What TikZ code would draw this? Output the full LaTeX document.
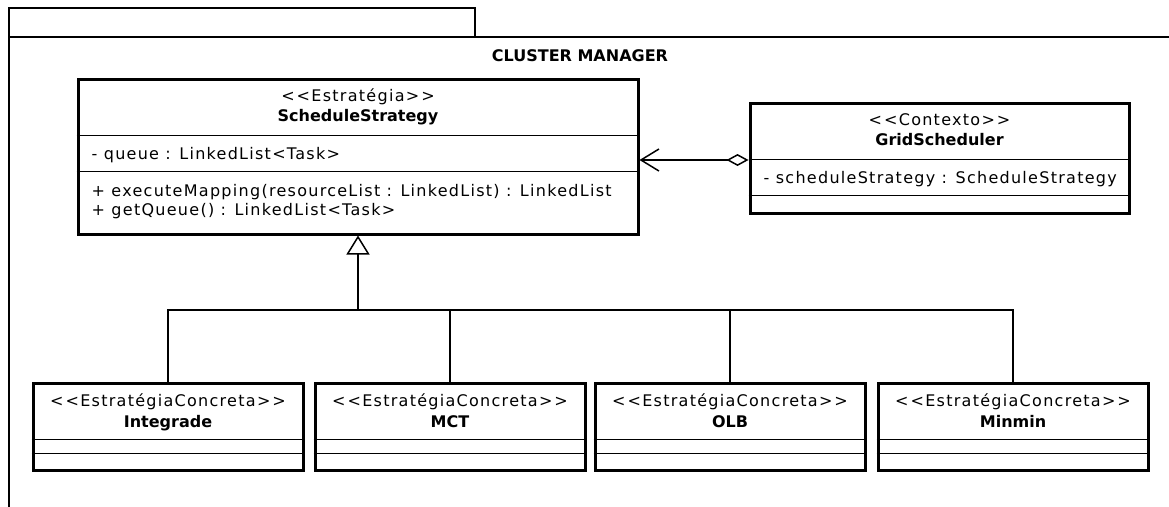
\documentclass[tikz,border=0pt]{standalone}
\usepackage{fontspec}
\setmainfont{DejaVu Sans}[LetterSpace=8, BoldFeatures={LetterSpace=0}]
\usepackage{tikz}
\usetikzlibrary{calc}
\usetikzlibrary{arrows.meta}

\newcommand{\umlstereo}[1]{<\kern2pt<#1>\kern2pt>}

\tikzset{
    pkgframe/.style={line width=2.6pt},
    classbox/.style={draw, line width=3pt, inner sep=0pt},
    classtext/.style={inner sep=0pt, anchor=base, font=\fontsize{16}{19}\selectfont},
    classname/.style={inner sep=0pt, anchor=base, font=\fontsize{16}{19}\selectfont\bfseries},
    compsep/.style={line width=1.5pt},
    link/.style={line width=1.5pt},
    assoc/.style={line width=1.5pt, {Diamond[open,length=22pt,width=12pt]}-{Straight Barb[length=18pt,width=22pt]}},
    gen/.style={line width=1.5pt, -{Triangle[open,length=19pt,width=23pt]}}
}

\begin{document}
\begin{tikzpicture}[x=1pt, y=-1pt]

    \useasboundingbox (0,0) rectangle (1169,506);

    % Draw the package
    \draw[pkgframe] (9,8) rectangle (475,37);
    \draw[pkgframe] (9,510) -- (9,37) -- (1175,37);
    \node[classname] (pkg) at (580,61) {CLUSTER MANAGER};

    % Place the strategy class
    \node[classbox, minimum width=560pt, minimum height=155pt] (sched) at (358,156.5) {};
    \node[classtext] (sched-st) at ($(sched.north)+(0,24)$) {\umlstereo{Estratégia}};
    \node[classname] (sched-nm) at ($(sched.north)+(0,44)$) {ScheduleStrategy};
    \draw[compsep] ($(sched.north west)+(0,58)$) -- ($(sched.north east)+(0,58)$);
    \draw[compsep] ($(sched.north west)+(0,94)$) -- ($(sched.north east)+(0,94)$);
    \node[classtext, anchor=base west] (sched-a1) at ($(sched.north west)+(15,82)$) {- queue : LinkedList<Task>};
    \node[classtext, anchor=base west] (sched-m1) at ($(sched.north west)+(15,119)$) {+ executeMapping(resourceList : LinkedList) : LinkedList};
    \node[classtext, anchor=base west] (sched-m2) at ($(sched.north west)+(15,138)$) {+ getQueue() : LinkedList<Task>};

    % Place the context class
    \node[classbox, minimum width=379pt, minimum height=110pt] (grid) at (939.5,158) {};
    \node[classtext] (grid-st) at ($(grid.north)+(0,24)$) {\umlstereo{Contexto}};
    \node[classname] (grid-nm) at ($(grid.north)+(0,44)$) {GridScheduler};
    \draw[compsep] ($(grid.north west)+(0,58)$) -- ($(grid.north east)+(0,58)$);
    \draw[compsep] ($(grid.north west)+(0,94)$) -- ($(grid.north east)+(0,94)$);
    \node[classtext, anchor=base west] (grid-a1) at ($(grid.north west)+(15,82)$) {- scheduleStrategy : ScheduleStrategy};

    % Place the concrete strategies
    \node[classbox, minimum width=270pt, minimum height=87pt] (integrade) at (168,426.5) {};
    \node[classbox, minimum width=270pt, minimum height=87pt] (mct) at (450,426.5) {};
    \node[classbox, minimum width=270pt, minimum height=87pt] (olb) at (730,426.5) {};
    \node[classbox, minimum width=270pt, minimum height=87pt] (minmin) at (1013,426.5) {};

    \node[classtext] (integrade-st) at ($(integrade.north)+(0,25)$) {\umlstereo{EstratégiaConcreta}};
    \node[classname] (integrade-nm) at ($(integrade.north)+(0,46)$) {Integrade};
    \node[classtext] (mct-st) at ($(mct.north)+(0,25)$) {\umlstereo{EstratégiaConcreta}};
    \node[classname] (mct-nm) at ($(mct.north)+(0,46)$) {MCT};
    \node[classtext] (olb-st) at ($(olb.north)+(0,25)$) {\umlstereo{EstratégiaConcreta}};
    \node[classname] (olb-nm) at ($(olb.north)+(0,46)$) {OLB};
    \node[classtext] (minmin-st) at ($(minmin.north)+(0,25)$) {\umlstereo{EstratégiaConcreta}};
    \node[classname] (minmin-nm) at ($(minmin.north)+(0,46)$) {Minmin};

    \draw[compsep] ($(integrade.north west)+(0,58)$) -- ($(integrade.north east)+(0,58)$);
    \draw[compsep] ($(integrade.north west)+(0,72)$) -- ($(integrade.north east)+(0,72)$);
    \draw[compsep] ($(mct.north west)+(0,58)$) -- ($(mct.north east)+(0,58)$);
    \draw[compsep] ($(mct.north west)+(0,72)$) -- ($(mct.north east)+(0,72)$);
    \draw[compsep] ($(olb.north west)+(0,58)$) -- ($(olb.north east)+(0,58)$);
    \draw[compsep] ($(olb.north west)+(0,72)$) -- ($(olb.north east)+(0,72)$);
    \draw[compsep] ($(minmin.north west)+(0,58)$) -- ($(minmin.north east)+(0,58)$);
    \draw[compsep] ($(minmin.north west)+(0,72)$) -- ($(minmin.north east)+(0,72)$);

    % Draw the aggregation
    \draw[assoc] ($(grid.west)+(0,2)$) -- ($(sched.east |- grid.west)+(0,2)$);

    % Draw the generalization
    \coordinate (fork) at (358,310);
    \draw[gen] (fork) -- (sched.south);
    \draw[link] (integrade.north) |- (fork) -| (minmin.north);
    \draw[link] (mct.north) -- (mct.north |- fork);
    \draw[link] (olb.north) -- (olb.north |- fork);

\end{tikzpicture}
\end{document}
